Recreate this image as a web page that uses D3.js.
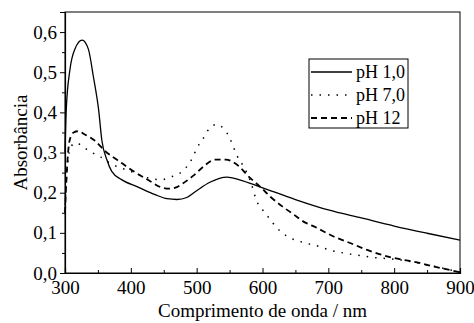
<!DOCTYPE html>
<html>
<head>
<meta charset="utf-8">
<script src="https://cdn.jsdelivr.net/npm/d3@7"></script>
<style>
  body { margin: 0; background: #fff; }
</style>
</head>
<body>
<div id="chart"></div>
<script>
// spectra (wavelength nm / absorbance)
const wlPH1 = [300, 302, 307.6, 315, 326, 335.5, 343, 351, 356, 363.5, 371, 386, 411, 437, 455, 470, 485, 500, 520, 546, 565, 597, 650, 700, 750, 800, 850, 900];
const absPH1 = [0.30, 0.41, 0.5075, 0.5575, 0.58, 0.5575, 0.49, 0.4075, 0.33, 0.2825, 0.253, 0.2325, 0.214, 0.195, 0.185, 0.183, 0.188, 0.205, 0.226, 0.239, 0.232, 0.214, 0.183, 0.157, 0.137, 0.117, 0.099, 0.082];

const wlPH7 = [300, 304, 309, 317, 329, 341, 353, 370, 400, 425, 447, 460, 475, 494, 500, 509, 517, 530, 542, 550, 556, 562, 571, 583, 591, 600, 610, 622, 638, 660, 686, 700, 734, 767, 810, 851, 900];
const absPH7 = [0.17, 0.27, 0.315, 0.324, 0.312, 0.30, 0.29, 0.272, 0.253, 0.237, 0.2325, 0.239, 0.249, 0.288, 0.31, 0.3325, 0.355, 0.37, 0.3575, 0.337, 0.313, 0.29, 0.266, 0.2225, 0.18, 0.1575, 0.137, 0.112, 0.091, 0.077, 0.066, 0.058, 0.047, 0.039, 0.0325, 0.02, 0.002];

const wlPH12 = [300, 303, 307, 313, 320, 330, 345, 360, 386, 400, 430, 445, 458, 470, 478, 495, 511, 528, 544, 564, 579, 597, 612, 630, 648, 658, 683, 708, 734, 759, 795, 830, 861, 900];
const absPH12 = [0.15, 0.26, 0.33, 0.35, 0.353, 0.345, 0.33, 0.305, 0.274, 0.258, 0.228, 0.214, 0.21, 0.214, 0.222, 0.2425, 0.266, 0.2825, 0.2825, 0.266, 0.24, 0.214, 0.19, 0.166, 0.145, 0.1325, 0.112, 0.091, 0.074, 0.0575, 0.039, 0.028, 0.016, 0.002];

const seriesNames = ['pH 1,0', 'pH 7,0', 'pH 12'];
const xTicks = [300, 400, 500, 600, 700, 800, 900];
const yTicks = [0, 0.1, 0.2, 0.3, 0.4, 0.5, 0.6];

const W = 474, H = 323;
const margin = { top: 12, right: 14, bottom: 50, left: 65 };
const FONT = "'Liberation Serif'";

const svg = d3.select('#chart').append('svg')
  .attr('width', W)
  .attr('height', H);

const x = d3.scaleLinear().domain([300, 900]).range([margin.left, W - margin.right]);
const y = d3.scaleLinear().domain([0, 0.65]).range([H - margin.bottom, margin.top]);

const comma = v => d3.format('.1f')(v).replace('.', ',');

// frame
svg.append('rect')
  .attr('x', x(300)).attr('y', y(0.65))
  .attr('width', x(900) - x(300)).attr('height', y(0) - y(0.65))
  .attr('fill', 'none').attr('stroke', '#000').attr('stroke-width', 1);

// x axis (ticks pointing in)
const xAxis = svg.append('g')
  .attr('transform', 'translate(0,' + y(0) + ')')
  .call(d3.axisBottom(x).tickValues(xTicks).tickSize(-5).tickPadding(8).tickFormat(d3.format('d')));
svg.append('g')
  .attr('transform', 'translate(0,' + y(0) + ')')
  .call(d3.axisBottom(x).tickValues(d3.range(350, 900, 100)).tickSize(-3).tickFormat(''))
  .select('.domain').remove();

// y axis (ticks pointing out)
const yAxis = svg.append('g')
  .attr('transform', 'translate(' + x(300) + ',0)')
  .call(d3.axisLeft(y).tickValues(yTicks).tickSize(5).tickPadding(3).tickFormat(comma));
svg.append('g')
  .attr('transform', 'translate(' + x(300) + ',0)')
  .call(d3.axisLeft(y).tickValues([0.05, 0.15, 0.25, 0.35, 0.45, 0.55]).tickSize(3).tickFormat(''))
  .select('.domain').remove();

xAxis.selectAll('text').style('font-family', FONT).style('font-size', '19px');
yAxis.selectAll('text').style('font-family', FONT).style('font-size', '19px');
svg.selectAll('.domain').attr('stroke-width', 1.2);

// axis titles
svg.append('text')
  .attr('x', (x(300) + x(900)) / 2)
  .attr('y', 317)
  .attr('text-anchor', 'middle')
  .style('font-family', FONT)
  .style('font-size', '19px')
  .text('Comprimento de onda / nm');

svg.append('text')
  .attr('transform', 'translate(27,' + (y(0) + y(0.65)) / 2 + ') rotate(-90)')
  .attr('text-anchor', 'middle')
  .style('font-family', FONT)
  .style('font-size', '19px')
  .text('Absorbância');

// curves
const line = d3.line()
  .x(d => x(d[0]))
  .y(d => y(d[1]))
  .curve(d3.curveMonotoneX);

const styles = [
  { dash: null, width: 1.3 },
  { dash: '1.5,7', width: 1.5 },
  { dash: '6,4', width: 1.8 }
];

const series = [
  d3.zip(wlPH1, absPH1),
  d3.zip(wlPH7, absPH7),
  d3.zip(wlPH12, absPH12)
];

const plot = svg.append('g');
series.forEach((s, i) => {
  plot.append('path')
    .datum(s)
    .attr('d', line)
    .attr('fill', 'none')
    .attr('stroke', '#000')
    .attr('stroke-width', styles[i].width)
    .attr('stroke-dasharray', styles[i].dash);
});

// legend
const legend = svg.append('g').attr('transform', 'translate(309,59)');
legend.append('rect')
  .attr('width', 99).attr('height', 69)
  .attr('fill', '#fff').attr('stroke', '#000').attr('stroke-width', 1);

seriesNames.forEach((name, i) => {
  const ly = 13 + i * 23;
  legend.append('line')
    .attr('x1', 2).attr('x2', 43)
    .attr('y1', ly).attr('y2', ly)
    .attr('stroke', '#000')
    .attr('stroke-width', styles[i].width)
    .attr('stroke-dasharray', styles[i].dash);
  legend.append('text')
    .attr('x', 47).attr('y', ly)
    .attr('dy', '0.35em')
    .style('font-family', FONT)
    .style('font-size', '18px')
    .text(name);
});
</script>
</body>
</html>
